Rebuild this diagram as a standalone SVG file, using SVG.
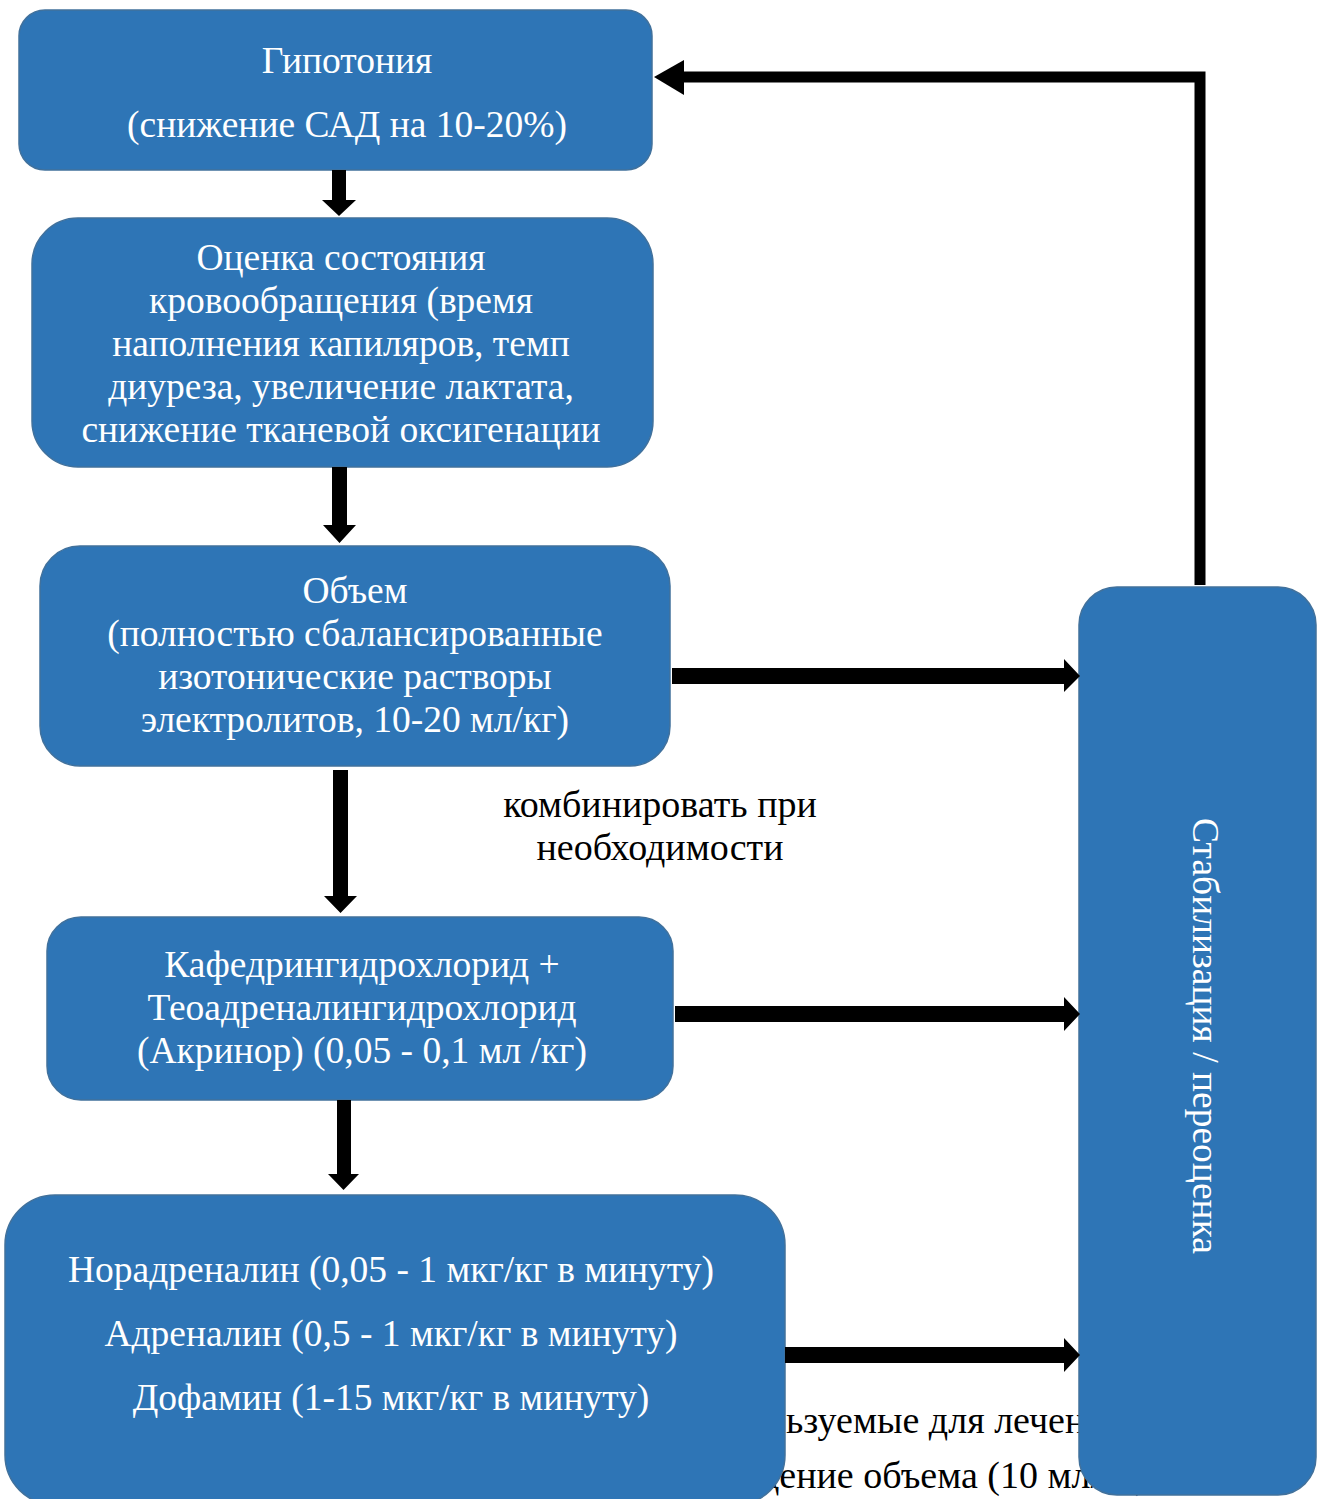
<svg xmlns="http://www.w3.org/2000/svg" width="1317" height="1499" viewBox="0 0 1317 1499">
<style>
.box{fill:#2E75B6;stroke:#41719C;stroke-width:1.5}
.t{font-family:"Liberation Serif","Times New Roman",serif;font-size:37.5px;fill:#FFFFFF;text-anchor:middle}
.k{font-family:"Liberation Serif","Times New Roman",serif;font-size:38px;fill:#000000}
.arr{fill:#000000}
</style>
<rect width="1317" height="1499" fill="#FFFFFF"/>
<g id="hidden-text">
<text class="k" x="786" y="1433">ьзуемые для лечения</text>
<text class="k" x="760" y="1488">дение объема (10 мл/кг)</text>
</g>
<g id="n1">
<rect class="box" x="19" y="10" width="633" height="160" rx="26"/>
<text class="t" x="347" y="73">Гипотония</text>
<text class="t" x="347" y="137">(снижение САД на 10-20%)</text>
</g>
<g id="n2">
<rect class="box" x="32" y="218" width="621" height="249" rx="46"/>
<text class="t" x="341" y="270">Оценка состояния</text>
<text class="t" x="341" y="313">кровообращения (время</text>
<text class="t" x="341" y="356">наполнения капиляров, темп</text>
<text class="t" x="341" y="399">диуреза, увеличение лактата,</text>
<text class="t" x="341" y="442">снижение тканевой оксигенации</text>
</g>
<g id="n3">
<rect class="box" x="40" y="546" width="630" height="220" rx="40"/>
<text class="t" x="355" y="603">Объем</text>
<text class="t" x="355" y="646">(полностью сбалансированные</text>
<text class="t" x="355" y="689">изотонические растворы</text>
<text class="t" x="355" y="732">электролитов, 10-20 мл/кг)</text>
</g>
<g id="label">
<text class="k" x="660" y="817" text-anchor="middle">комбинировать при</text>
<text class="k" x="660" y="860" text-anchor="middle">необходимости</text>
</g>
<g id="n4">
<rect class="box" x="47" y="917" width="626" height="183" rx="34"/>
<text class="t" x="362" y="977">Кафедрингидрохлорид +</text>
<text class="t" x="362" y="1020">Теоадреналингидрохлорид</text>
<text class="t" x="362" y="1063">(Акринор) (0,05 - 0,1 мл /кг)</text>
</g>
<g id="n5">
<rect class="box" x="5" y="1195" width="780" height="310" rx="50"/>
<text class="t" x="391" y="1282">Норадреналин (0,05 - 1 мкг/кг в минуту)</text>
<text class="t" x="391" y="1346">Адреналин (0,5 - 1 мкг/кг в минуту)</text>
<text class="t" x="391" y="1410">Дофамин (1-15 мкг/кг в минуту)</text>
</g>
<g id="n6">
<rect class="box" x="1079" y="587" width="237" height="908" rx="38"/>
<text class="t" transform="translate(1193,1036) rotate(90)">Стабилизация / переоценка</text>
</g>
<g id="connectors">
<polygon class="arr" points="332,170 346,170 346,200 356,200 339,216 322,200 332,200"/>
<polygon class="arr" points="332,467 347,467 347,525 356,525 339.5,543 323,525 332,525"/>
<polygon class="arr" points="333,770 348,770 348,896 357,896 340.5,913 324,896 333,896"/>
<polygon class="arr" points="337,1100 351,1100 351,1174 359,1174 343.5,1190 328,1174 337,1174"/>
<polygon class="arr" points="672,668 1064,668 1064,659 1080,676 1064,692 1064,684 672,684"/>
<polygon class="arr" points="675,1006 1064,1006 1064,997 1080,1014 1064,1031 1064,1022 675,1022"/>
<polygon class="arr" points="785,1347 1064,1347 1064,1338 1080,1355 1064,1372 1064,1363 785,1363"/>
<polyline points="1200,585 1200,77 682,77" fill="none" stroke="#000000" stroke-width="11"/>
<polygon class="arr" points="684,60 654,77 684,95"/>
</g>
</svg>
